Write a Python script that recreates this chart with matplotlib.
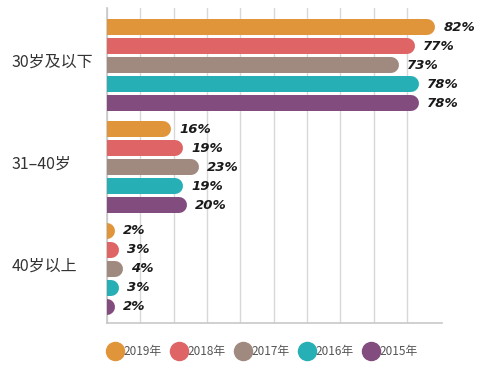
import matplotlib
matplotlib.use("Agg")
import matplotlib.pyplot as plt
from matplotlib.lines import Line2D
from matplotlib.transforms import blended_transform_factory
import numpy as np

plt.rcParams['font.family'] = ['Noto Sans CJK SC', 'DejaVu Sans']

categories = ["30岁及以下", "31–40岁", "40岁以上"]
series = ["2019年", "2018年", "2017年", "2016年", "2015年"]
values = {
    "2019年": [82, 16, 2],
    "2018年": [77, 19, 3],
    "2017年": [73, 23, 4],
    "2016年": [78, 19, 3],
    "2015年": [78, 20, 2],
}
colors = ["#E0953A", "#DE6465", "#A08A80", "#26AFB4", "#824C7E"]

W, H, DPI = 500, 373, 100
fig = plt.figure(figsize=(W / DPI, H / DPI), dpi=DPI)
ax_l, ax_r, ax_b, ax_t = 107, 442, 323, 8
ax = fig.add_axes([ax_l / W, 1 - ax_b / H, (ax_r - ax_l) / W, (ax_b - ax_t) / H])

px_per_unit = 4.0
xmax = (ax_r - ax_l) / px_per_unit
ax.set_xlim(0, xmax)
ax.set_ylim(2.53, -0.56)

bar_px = 16
lw_pt = bar_px * 72 / DPI
r_data = (bar_px / 2) / px_per_unit
offset = 19 / 102

for i, s in enumerate(series):
    for g, v in enumerate(values[s]):
        y = g + (i - 2) * offset
        ax.plot([-10, v - r_data], [y, y], color=colors[i], lw=lw_pt,
                solid_capstyle='round', zorder=3)
        ax.annotate(f"{v}%", xy=(v, y), xytext=(6, 0), textcoords='offset points',
                    ha='left', va='center', fontsize=9.5, style='italic',
                    weight='bold', family='DejaVu Sans', color='#1a1a1a', zorder=4)

ax.set_xticks(np.arange(0, 76, 100 / 12))
ax.grid(axis='x', color='#d8d8d8', lw=1, zorder=0)
ax.tick_params(axis='both', length=0, labelbottom=False, labelleft=False)
ax.set_yticks([])
for sp in ['top', 'right']:
    ax.spines[sp].set_visible(False)
for sp in ['left', 'bottom']:
    ax.spines[sp].set_color('#c8c8c8')
    ax.spines[sp].set_linewidth(1.2)

trans = blended_transform_factory(fig.transFigure, ax.transData)
for g, c in enumerate(categories):
    ax.text(12 / W, g - 0.03, c, transform=trans,
            ha='left', va='center', fontsize=11.5, color='#333333')

handles = [Line2D([], [], marker='o', ls='', markersize=13, markerfacecolor=c,
                  markeredgecolor=c) for c in colors]
fig.legend(handles, series, loc='center', bbox_to_anchor=(262 / W, 1 - 352 / H),
           ncol=5, frameon=False, handletextpad=0.0, columnspacing=0.7,
           fontsize=8.5, labelcolor='#555555', handlelength=1.5)

fig.savefig("out.png", dpi=DPI, facecolor='white')
